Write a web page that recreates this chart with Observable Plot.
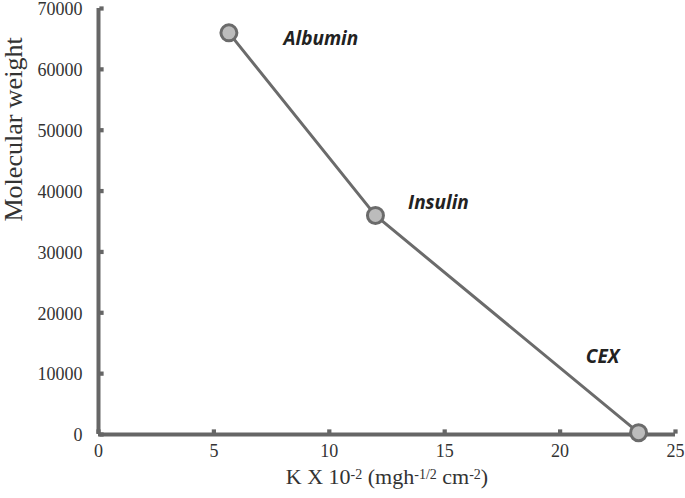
<!DOCTYPE html>
<html>
<head>
<meta charset="utf-8">
<script src="https://cdn.jsdelivr.net/npm/d3@7"></script>
<script src="https://cdn.jsdelivr.net/npm/@observablehq/plot@0.6"></script>
<style>
  body { margin: 0; background: #fff; }
</style>
</head>
<body>
<div id="chart"></div>
<script>
const proteins = ["Albumin", "Insulin", "CEX"];
const kValues = [5.65, 12, 23.4];
const molecularWeights = [66000, 36000, 300];
const xTicks = [0, 5, 10, 15, 20, 25];
const yTicks = [0, 10000, 20000, 30000, 40000, 50000, 60000, 70000];

const data = proteins.map((p, i) => ({name: p, k: kValues[i], mw: molecularWeights[i]}));

const axisColor = "#666";
const labelStyle = {x: "k", y: "mw", text: "name", fontFamily: "'Open Sans', sans-serif", fontWeight: "bold", fontStyle: "italic", fontSize: 19, fill: "#222"};

const chart = Plot.plot({
  width: 685,
  height: 498,
  marginLeft: 98,
  marginRight: 10,
  marginTop: 8,
  marginBottom: 64,
  style: {fontFamily: "'Liberation Serif', serif", fontSize: "18px", color: "#333", background: "#fff", overflow: "visible"},
  x: {domain: [0, 25]},
  y: {domain: [0, 70000]},
  marks: [
    Plot.axisX(xTicks, {tickSize: 0, tickPadding: 10, fill: "#333", fontSize: 18, label: null}),
    Plot.axisY(yTicks, {tickSize: 0, tickPadding: 16, fill: "#333", fontSize: 18, dy: 1, tickFormat: d => String(d), label: null}),
    Plot.ruleX([0], {stroke: axisColor, strokeWidth: 4}),
    Plot.ruleY([0], {stroke: axisColor, strokeWidth: 4}),
    Plot.dot(xTicks, {x: d => d, y: 0, symbol: "square", r: 2.4, dy: -3, fill: axisColor}),
    Plot.dot(yTicks, {x: 0, y: d => d, symbol: "square", r: 2.4, dx: 3, fill: axisColor}),
    Plot.line(data, {x: "k", y: "mw", stroke: "#6b6b6b", strokeWidth: 3}),
    Plot.dot(data, {x: "k", y: "mw", r: 8, fill: "#bcbcbc", stroke: "#6b6b6b", strokeWidth: 3}),
    Plot.text(data.filter(d => d.name === "Albumin"), {...labelStyle, dx: 92, dy: 6}),
    Plot.text(data.filter(d => d.name === "Insulin"), {...labelStyle, dx: 63, dy: -13}),
    Plot.text(data.filter(d => d.name === "CEX"), {...labelStyle, dx: -36, dy: -76}),
    Plot.text(["Molecular weight"], {frameAnchor: "left", dx: -85, rotate: -90, fontSize: 26, fill: "#333"}),
    Plot.text(["K X 10-2 (mgh-1/2 cm-2)"], {frameAnchor: "bottom", dy: 49, fontSize: 22, fill: "#333", className: "xlabel"})
  ]
});
document.getElementById("chart").appendChild(chart);

// Superscripts for the x-axis label
const t = d3.select(chart).select(".xlabel text");
t.text(null);
const parts = [["K X 10", false], ["-2", true], [" (mgh", false], ["-1/2", true], [" cm", false], ["-2", true], [")", false]];
parts.forEach(([s, sup]) => {
  t.append("tspan").attr("baseline-shift", sup ? "35%" : null).attr("font-size", sup ? 14 : null).text(s);
});
</script>
</body>
</html>
